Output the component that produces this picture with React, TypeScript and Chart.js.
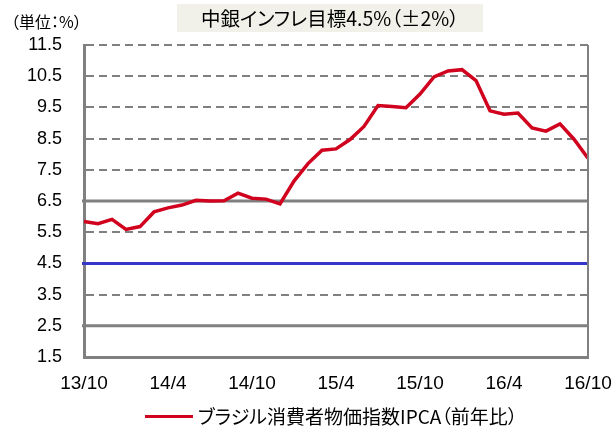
import React, { useEffect, useRef } from "react";
import { Chart, registerables } from "chart.js";

Chart.register(...registerables);

const months = [
  "13/10", "13/11", "13/12",
  "14/1", "14/2", "14/3", "14/4", "14/5", "14/6", "14/7", "14/8", "14/9", "14/10", "14/11", "14/12",
  "15/1", "15/2", "15/3", "15/4", "15/5", "15/6", "15/7", "15/8", "15/9", "15/10", "15/11", "15/12",
  "16/1", "16/2", "16/3", "16/4", "16/5", "16/6", "16/7", "16/8", "16/9", "16/10",
];

const ipca = [
  5.84, 5.77, 5.91,
  5.59, 5.68, 6.15, 6.28, 6.37, 6.52, 6.5, 6.51, 6.75, 6.59, 6.56, 6.41,
  7.14, 7.7, 8.13, 8.17, 8.47, 8.89, 9.56, 9.53, 9.49, 9.93, 10.48, 10.67,
  10.71, 10.36, 9.39, 9.28, 9.32, 8.84, 8.74, 8.97, 8.48, 7.87,
];

const xTickLabels = ["13/10", "14/4", "14/10", "15/4", "15/10", "16/4", "16/10"];
const yTicks = [1.5, 2.5, 3.5, 4.5, 5.5, 6.5, 7.5, 8.5, 9.5, 10.5, 11.5];

const targetRate = 4.5;
const upperBand = 6.5;
const lowerBand = 2.5;

const seriesLabel = "ブラジル消費者物価指数IPCA（前年比）";
const titleText = "中銀インフレ目標4.5%（±2%）";
const unitText = "（単位：%）";

const RED = "#d0021e";
const GRAY = "#808080";
const BLUE = "#3636c8";

const refLinesPlugin = {
  id: "refLines",
  beforeDatasetsDraw(chart: any) {
    const { ctx, chartArea, scales } = chart;
    const y = scales.y;
    const lines = [
      { v: upperBand, c: GRAY },
      { v: lowerBand, c: GRAY },
      { v: targetRate, c: BLUE },
    ];
    ctx.save();
    for (const l of lines) {
      const py = y.getPixelForValue(l.v);
      ctx.beginPath();
      ctx.strokeStyle = l.c;
      ctx.lineWidth = 3;
      ctx.moveTo(chartArea.left - 2, py);
      ctx.lineTo(chartArea.right, py);
      ctx.stroke();
    }
    ctx.restore();
  },
  afterDraw(chart: any) {
    const { ctx, chartArea } = chart;
    ctx.save();
    ctx.beginPath();
    ctx.strokeStyle = GRAY;
    ctx.lineWidth = 2;
    ctx.moveTo(chartArea.right, chartArea.top);
    ctx.lineTo(chartArea.right, chartArea.bottom);
    ctx.stroke();
    ctx.restore();
  },
};

export default function App() {
  const canvasRef = useRef<HTMLCanvasElement>(null);

  useEffect(() => {
    if (!canvasRef.current) return;
    const chart = new Chart(canvasRef.current, {
      type: "line",
      data: {
        labels: months,
        datasets: [
          {
            label: seriesLabel,
            data: ipca,
            borderColor: RED,
            backgroundColor: RED,
            borderWidth: 3.5,
            pointRadius: 0,
            tension: 0,
          },
        ],
      },
      options: {
        animation: false,
        responsive: true,
        maintainAspectRatio: false,
        layout: { padding: { top: 45, right: 26, bottom: 0, left: 0 } },
        plugins: {
          legend: { display: false },
          tooltip: { enabled: false },
          title: { display: false },
        },
        scales: {
          x: {
            type: "category",
            offset: false,
            grid: { display: false },
            border: { display: true, color: GRAY, width: 3 },
            ticks: {
              autoSkip: false,
              maxRotation: 0,
              padding: 7,
              color: "#000",
              font: { family: "'Liberation Sans', Arial, sans-serif", size: 19 },
              callback: function (this: any, val: any) {
                const l = this.getLabelForValue(val);
                return xTickLabels.includes(l) ? l : null;
              },
            },
            afterFit: (s: any) => {
              s.height = 70;
              s.paddingLeft = 0;
              s.paddingRight = 0;
            },
          },
          y: {
            type: "linear",
            min: 1.5,
            max: 11.5,
            grid: { color: GRAY, lineWidth: 2, drawTicks: false },
            border: { display: true, color: GRAY, width: 3, dash: [8, 5] },
            ticks: {
              padding: 22,
              color: "#000",
              font: { family: "'Liberation Sans', Arial, sans-serif", size: 18 },
              callback: (v: any) => Number(v).toFixed(1),
            },
            afterBuildTicks: (s: any) => {
              s.ticks = yTicks.map((v) => ({ value: v }));
            },
            afterFit: (s: any) => {
              s.width = 84;
              s.paddingTop = 0;
              s.paddingBottom = 0;
            },
          },
        },
      },
      plugins: [refLinesPlugin],
    });
    return () => chart.destroy();
  }, []);

  const cjk = "'Noto Sans CJK JP', 'Noto Sans', sans-serif";

  return (
    <div style={{ position: "absolute", left: 0, top: 0, width: 614, height: 427, background: "#fff" }}>
      <canvas ref={canvasRef} style={{ position: "absolute", left: 0, top: 0, width: 614, height: 427 }} />
      <div
        style={{
          position: "absolute", left: 11, top: 10, fontFamily: cjk, fontSize: 16, lineHeight: "22px",
          color: "#000", whiteSpace: "nowrap", fontFeatureSettings: '"palt"',
        }}
      >
        {unitText}
      </div>
      <div
        style={{
          position: "absolute", left: 177, top: 4, width: 306, height: 28, background: "#f1f1ea",
          fontFamily: cjk, fontSize: 19.5, lineHeight: "28px", textAlign: "center", color: "#000",
          whiteSpace: "nowrap", fontFeatureSettings: '"palt"',
        }}
      >
        {titleText}
      </div>
      <div style={{ position: "absolute", left: 145, top: 415, width: 48, height: 3, background: RED }} />
      <div
        style={{
          position: "absolute", left: 198, top: 402, fontFamily: cjk, fontSize: 19, lineHeight: "28px",
          color: "#000", whiteSpace: "nowrap", fontFeatureSettings: '"palt"',
        }}
      >
        {seriesLabel}
      </div>
    </div>
  );
}
